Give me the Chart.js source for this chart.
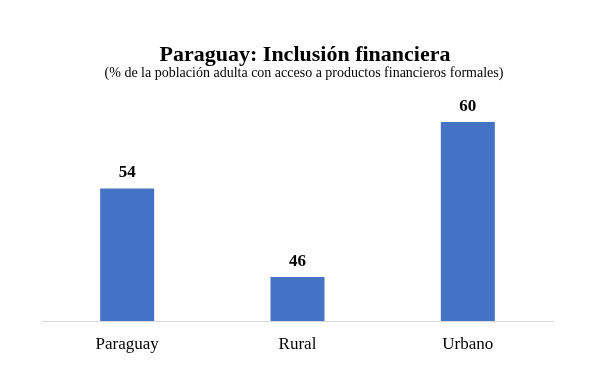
<!DOCTYPE html>
<html>
<head>
<meta charset="utf-8">
<script src="https://cdn.jsdelivr.net/npm/chart.js@4.4.1/dist/chart.umd.min.js"></script>
<style>
  html, body { margin: 0; padding: 0; background: #ffffff; }
  #wrap { width: 600px; height: 375px; }
</style>
</head>
<body>
<div id="wrap"><canvas id="inclusionChart"></canvas></div>
<script>
const categories = ["Paraguay", "Rural", "Urbano"];
const values = [54, 46, 60];
const titleText = "Paraguay: Inclusión financiera";
const subtitleText = "(% de la población adulta con acceso a productos financieros formales)";

const SERIF = "'Liberation Serif', 'Times New Roman', serif";

// Title + subtitle drawn a bit right of the plot centre, like the original
const headingPlugin = {
  id: 'heading',
  afterDraw(chart) {
    const { ctx } = chart;
    ctx.save();
    ctx.fillStyle = '#000';
    ctx.textAlign = 'center';
    ctx.textBaseline = 'alphabetic';
    ctx.font = "bold 22px " + SERIF;
    ctx.fillText(titleText, 305, 61);
    ctx.font = "14px " + SERIF;
    ctx.fillText(subtitleText, 304, 77);
    ctx.restore();
  }
};

// Value labels above each bar
const valueLabelPlugin = {
  id: 'valueLabels',
  afterDatasetsDraw(chart) {
    const { ctx } = chart;
    const meta = chart.getDatasetMeta(0);
    ctx.save();
    ctx.fillStyle = '#000';
    ctx.font = "bold 17px " + SERIF;
    ctx.textAlign = 'center';
    ctx.textBaseline = 'alphabetic';
    meta.data.forEach((bar, i) => {
      ctx.fillText(String(values[i]), bar.x, bar.y - 11);
    });
    ctx.restore();
  }
};

const ctx = document.getElementById('inclusionChart').getContext('2d');
new Chart(ctx, {
  type: 'bar',
  data: {
    labels: categories,
    datasets: [{
      data: values,
      backgroundColor: '#4472C4',
      borderWidth: 0,
      categoryPercentage: 1,
      barPercentage: 0.317,
    }],
  },
  options: {
    responsive: true,
    maintainAspectRatio: false,
    animation: false,
    layout: { padding: { top: 100, right: 47, left: 42, bottom: 7.5 } },
    scales: {
      x: {
        grid: { display: false, drawTicks: false },
        border: { display: true, color: '#d9d9d9', width: 1 },
        ticks: {
          color: '#000',
          padding: 13,
          font: { family: SERIF, size: 17 },
        },
      },
      y: {
        display: false,
        min: 42,
        max: 62,
      },
    },
    plugins: {
      legend: { display: false },
      tooltip: { enabled: false },
    },
  },
  plugins: [valueLabelPlugin, headingPlugin],
});
</script>
</body>
</html>
